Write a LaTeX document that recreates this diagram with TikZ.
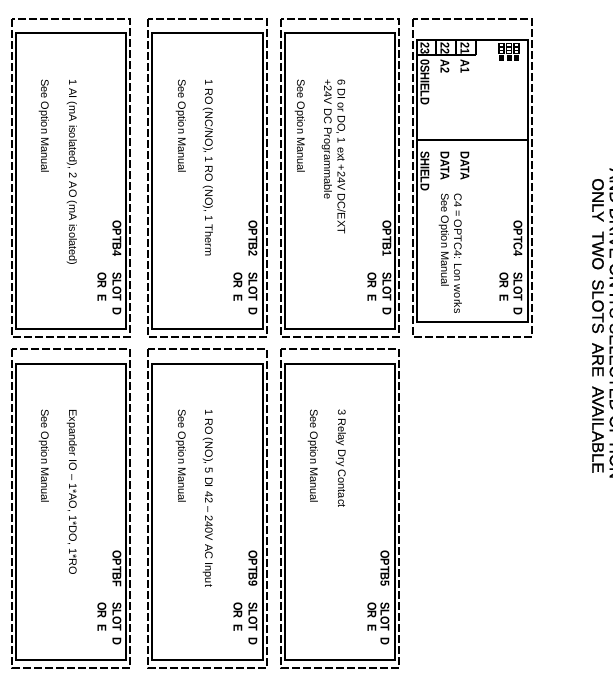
\documentclass[tikz,border=0pt]{standalone}
\usepackage{fontspec}
\setmainfont{Liberation Sans}
\newfontfamily\notefont[FakeBold=0.7]{Liberation Sans}
\usetikzlibrary{positioning}
\usetikzlibrary{calc}
\tikzset{
  cardbox/.style={draw=black,line width=1.5pt},
  slotbox/.style={draw=black,line width=1.4pt,dash pattern=on 8pt off 3pt},
  cardlabel/.style={rotate=-90,yscale=1.15,anchor=west,inner sep=0pt,font=\fontsize{11}{12}\selectfont\bfseries},
  desclabel/.style={rotate=-90,anchor=west,inner sep=0pt,font=\fontsize{11}{12}\selectfont},
  notelabel/.style={rotate=-90,anchor=west,inner sep=0pt,font=\notefont\fontsize{16.6}{18}\selectfont}
}
\begin{document}
\begin{tikzpicture}[x=1pt,y=-1pt]
\useasboundingbox (0,0) rectangle (613,686);
\fill[white] (0,0) rectangle (613,686);
\draw[slotbox] (413,19) rectangle (532,337);
\draw[cardbox] (417,40) rectangle (528,322);
\draw[cardbox] (417,140) -- (528,140);
\draw[cardbox] (417,55) -- (476,55);
\draw[cardbox] (436,40) -- (436,55);
\draw[cardbox] (456,40) -- (456,55);
\draw[cardbox] (476,40) -- (476,55);
\foreach \x in {499,506.5,514} {
  \draw[black,line width=1.3pt] (\x,43.5) rectangle ++(5,10);
  \draw[black,line width=1.3pt] (\x,47) -- ++(5,0);
  \draw[black,line width=1.3pt] (\x,50.5) -- ++(5,0);
  \fill[black] (\x,55) rectangle ++(5,5.5);
}
\draw[slotbox] (281,19) rectangle (399,337);
\draw[cardbox] (285,33) rectangle (395,329);
\draw[slotbox] (148,19) rectangle (267,337);
\draw[cardbox] (152,33) rectangle (263,329);
\draw[slotbox] (12,19) rectangle (130,337);
\draw[cardbox] (16,33) rectangle (126,329);
\draw[slotbox] (281,349) rectangle (399,668);
\draw[cardbox] (285,364) rectangle (395,660);
\draw[slotbox] (148,349) rectangle (267,668);
\draw[cardbox] (152,364) rectangle (263,660);
\draw[slotbox] (12,349) rectangle (130,668);
\draw[cardbox] (16,364) rectangle (126,660);
\node[notelabel] (noteone) at (615.5,168) {AND DRIVE ON ITS SELECTED OPTION};
\node[notelabel] (notetwo) at (598,178) {ONLY~~TWO~~SLOTS~~ARE~~AVAILABLE};
\node[cardlabel] (termone) at (465,42.5) {21};
\node[cardlabel] (termtwo) at (445,42.5) {22};
\node[cardlabel] (termthree) at (425,42.5) {23};
\node[cardlabel] (aone) at (465,59) {A1};
\node[cardlabel] (atwo) at (445,59) {A2};
\node[cardlabel] (oshield) at (425,59) {0SHIELD};
\node[cardlabel] (dataone) at (465,151) {DATA};
\node[cardlabel] (datatwo) at (445,151) {DATA};
\node[cardlabel] (shield) at (425,151) {SHIELD};
\node[cardlabel] (optcfour) at (518,220) {OPTC4};
\node[cardlabel] (slotcfour) at (518,272) {SLOT~~D};
\node[cardlabel] (orcfour) at (504,272) {OR~~E};
\node[desclabel] (desccfour) at (458,193) {C4 = OPTC4: Lon works};
\node[desclabel] (seecfour) at (444,193) {See Option Manual};
\node[cardlabel] (optbone) at (387,220) {OPTB1};
\node[cardlabel] (slotbone) at (387,272) {SLOT~~D};
\node[cardlabel] (orbone) at (372,272) {OR~~E};
\node[desclabel] (descbone) at (341,79) {6 DI or DO, 1 ext +24V DC/EXT};
\node[desclabel] (descbonetwo) at (327,79) {+24V DC Programmable};
\node[desclabel] (seebone) at (300,79) {See Option Manual};
\node[cardlabel] (optbtwo) at (253,220) {OPTB2};
\node[cardlabel] (slotbtwo) at (253,272) {SLOT~~D};
\node[cardlabel] (orbtwo) at (238,272) {OR~~E};
\node[desclabel] (descbtwo) at (208,79) {1 RO (NC/NO), 1 RO (NO), 1 Therm};
\node[desclabel] (seebtwo) at (181,79) {See Option Manual};
\node[cardlabel] (optbfour) at (117,220) {OPTB4};
\node[cardlabel] (slotbfour) at (117,272) {SLOT~~D};
\node[cardlabel] (orbfour) at (102,272) {OR~~E};
\node[desclabel] (descbfour) at (72,79) {1 AI (mA isolated), 2 AO (mA isolated)};
\node[desclabel] (seebfour) at (44,79) {See Option Manual};
\node[cardlabel] (optbfive) at (385,550) {OPTB5};
\node[cardlabel] (slotbfive) at (385,602) {SLOT~~D};
\node[cardlabel] (orbfive) at (372,602) {OR~~E};
\node[desclabel] (descbfive) at (341,409) {3 Relay Dry Contact};
\node[desclabel] (seebfive) at (313,409) {See Option Manual};
\node[cardlabel] (optbnine) at (253,550) {OPTB9};
\node[cardlabel] (slotbnine) at (253,602) {SLOT~~D};
\node[cardlabel] (orbnine) at (238,602) {OR~~E};
\node[desclabel] (descbnine) at (208,409) {1 RO (NO), 5 DI 42 – 240V AC Input};
\node[desclabel] (seebnine) at (181,409) {See Option Manual};
\node[cardlabel] (optbf) at (117,550) {OPTBF};
\node[cardlabel] (slotbf) at (117,602) {SLOT~~D};
\node[cardlabel] (orbf) at (102,602) {OR~~E};
\node[desclabel] (descbf) at (72,409) {Expander IO – 1*AO, 1*DO, 1*RO};
\node[desclabel] (seebf) at (44,409) {See Option Manual};
\end{tikzpicture}
\end{document}
